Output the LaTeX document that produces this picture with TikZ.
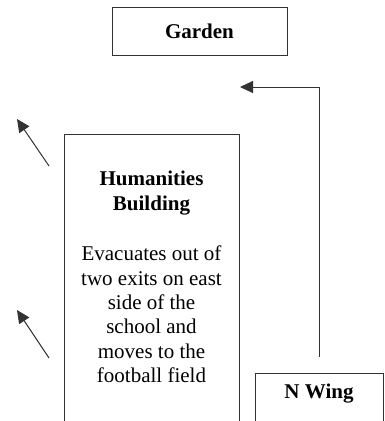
\documentclass[tikz,border=0pt]{standalone}
\usepackage{fontspec}
\setmainfont{Liberation Serif}
\usetikzlibrary{arrows.meta}
\begin{document}
\begin{tikzpicture}[x=1pt,y=-1pt,
  box/.style={draw=black!80, line width=1pt, rectangle, inner sep=0pt},
  flow/.style={draw=black!80, line width=1pt, -{Triangle[length=13pt,width=12pt]}},
  lbl/.style={font=\fontsize{21}{24.3}\selectfont\bfseries, align=center, inner sep=0pt},
  body/.style={font=\fontsize{21}{24.3}\selectfont, align=center, inner sep=0pt}]
\useasboundingbox (0,0) rectangle (384,421);
\clip (0,0) rectangle (384,421);
\node[box, minimum width=175pt, minimum height=48pt] (garden) at (199.5,31) {};
\node[lbl] (gardentext) at (garden.center) {Garden};
\node[box, minimum width=175pt, minimum height=300pt] (hum) at (151.5,284) {};
\node[lbl, anchor=north] (humtitle) at (151.5,171) {Humanities\\Building};
\node[body, anchor=north] (humbody) at (151.5,246) {Evacuates out of\\two exits on east\\side of the\\school and\\moves to the\\football field};
\node[box, minimum width=128pt, minimum height=60pt] (nwing) at (319,403) {};
\node[lbl] (nwingtext) at (319,394) {N Wing};
\coordinate (gtarget) at (240,87);
\coordinate (nstart) at (319,357);
\draw[flow] (nstart) |- (gtarget);
\coordinate (a1s) at (49,166);
\coordinate (a1e) at (17,119);
\coordinate (a2s) at (49,358);
\coordinate (a2e) at (17,310);
\draw[flow] (a1s) -- (a1e);
\draw[flow] (a2s) -- (a2e);
\end{tikzpicture}
\end{document}
